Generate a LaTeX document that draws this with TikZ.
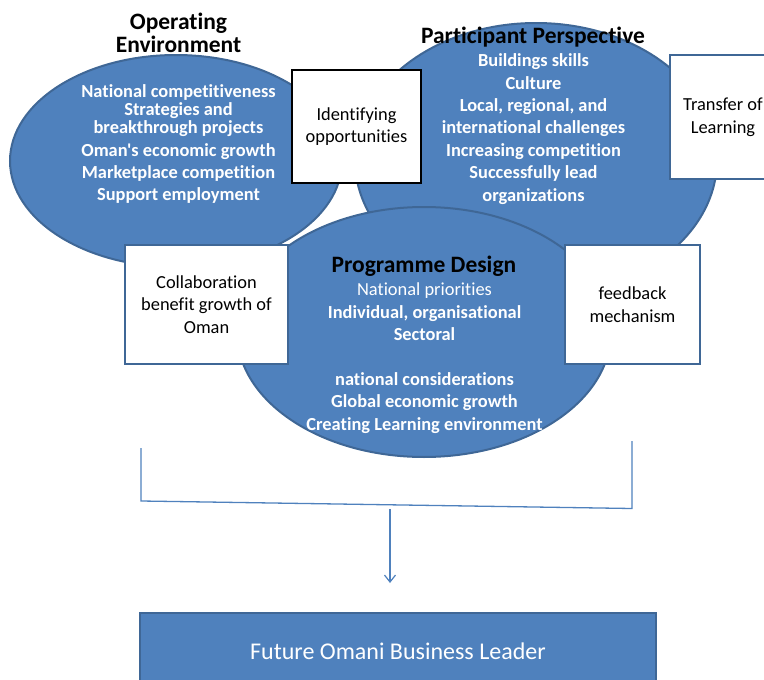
\documentclass[tikz,border=0pt]{standalone}
\usepackage{fontspec}
\setmainfont{Carlito}[Ligatures={TeXOff,CommonOff}]
\usetikzlibrary{shapes.geometric,arrows.meta}
\definecolor{accent}{HTML}{4F81BD}
\definecolor{accentdark}{HTML}{3F6796}
\begin{document}
\begin{tikzpicture}[x=1pt,y=1pt,
  blob/.style={ellipse, draw=accentdark, line width=2pt, fill=accent, inner sep=0pt},
  wbox/.style={rectangle, draw=accentdark, line width=1.6pt, fill=white, align=center,
    font=\fontsize{18.4}{22.6}\selectfont, inner sep=0pt},
  blktitle/.style={align=center, font=\bfseries\fontsize{23.5}{22.6}\selectfont, text=black, inner sep=0pt},
  blobtext/.style={align=center, font=\bfseries\fontsize{18.4}{22.4}\selectfont, text=white, inner sep=0pt},
  bracket/.style={draw=accent, line width=1.3pt},
  leaderbox/.style={rectangle, draw=accentdark, line width=2pt, fill=accent, text=white,
    font=\fontsize{24}{28}\selectfont, inner sep=0pt}
]
\useasboundingbox (0,0) rectangle (764,-680);

% ellipses
\node[blob, minimum width=332pt, minimum height=212pt] (ellOp) at (176,-161) {};
\node[blob, minimum width=362pt, minimum height=274pt] (ellPart) at (536,-160) {};
\node[blob, minimum width=374pt, minimum height=250pt] (ellProg) at (424,-332) {};

% titles
\node[blktitle] (ttlOp) at (178.5,-33) {Operating\\Environment};
\node[blktitle] (ttlPart) at (533,-37) {Participant Perspective};
\node[blktitle] (ttlProg) at (424,-266) {Programme Design};

% ellipse texts
\node[blobtext] (txtOp) at (178.5,-144) {National competitiveness\\[-4.2pt]
  Strategies and\\[-4.2pt] breakthrough projects\\ Oman's economic growth\\
  Marketplace competition\\ Support employment};
\node[blobtext] (txtPart) at (533.5,-129) {Buildings skills\\ Culture\\ Local, regional, and\\
  international challenges\\ Increasing competition\\ Successfully lead\\ organizations};
\node[blobtext] (txtProg) at (424.5,-358.2) {{\mdseries National priorities}\\
  Individual, organisational\\ Sectoral\\[22.4pt] national considerations\\
  Global economic growth\\ Creating Learning environment};

% white boxes
\node[wbox, draw=black, line width=2.6pt, minimum width=129pt, minimum height=113pt]
  (ident) at (356.5,-126.5) {Identifying\\ opportunities};
\node[wbox, minimum width=106pt, minimum height=124pt]
  (transfer) at (723,-117) {Transfer of\\ Learning};
\node[wbox, minimum width=163pt, minimum height=119pt]
  (collab) at (206.5,-304.5) {Collaboration\\ benefit growth of\\ Oman};
\node[wbox, minimum width=135pt, minimum height=119pt]
  (feedback) at (632.5,-304.5) {feedback\\ mechanism};

% bracket and arrow
\coordinate (bl1) at (141,-448);
\coordinate (bl2) at (141,-501);
\coordinate (br2) at (632,-508.5);
\coordinate (br1) at (632,-441);
\coordinate (arrS) at (390,-509);
\coordinate (arrE) at (390,-583);
\draw[bracket] (bl1) -- (bl2) -- (br2) -- (br1);
\draw[bracket, line width=1.2pt, -{Straight Barb[length=7pt,width=11pt]}] (arrS) -- (arrE);

% leader box
\node[leaderbox, minimum width=516pt, minimum height=77pt] (leader) at (398,-651.5)
  {Future Omani Business Leader};
\end{tikzpicture}
\end{document}
